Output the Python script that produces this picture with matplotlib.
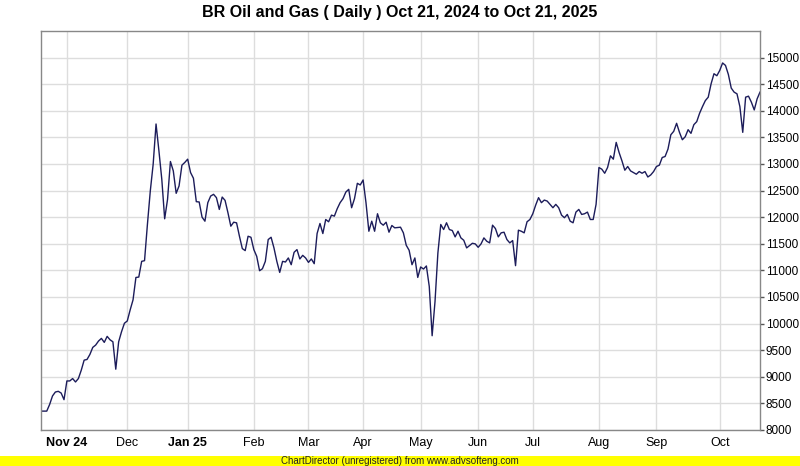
"""BR Oil and Gas, дневной график за год (стиль ChartDirector)"""

import matplotlib
matplotlib.use('Agg')
import matplotlib.pyplot as plt
from matplotlib.patches import Rectangle

TITLE = 'BR Oil and Gas ( Daily ) Oct 21, 2024 to Oct 21, 2025'
BANNER = 'ChartDirector (unregistered) from www.advsofteng.com'

# цены закрытия по торговым дням
prices = [
    8355, 8355, 8355, 8480, 8640, 8714, 8727, 8695, 8570, 8922,
    8922, 8967, 8903, 8967, 9124, 9313, 9326, 9420, 9553, 9596,
    9672, 9722, 9647, 9760, 9696, 9658, 9143, 9658, 9847, 10006,
    10050, 10257, 10446, 10867, 10875, 11170, 11183, 11863, 12492, 12996,
    13752, 13248, 12713, 11970, 12335, 13047, 12870, 12449, 12587, 12978,
    13029, 13091, 12840, 12732, 12292, 12286, 12001, 11925, 12273, 12398,
    12430, 12367, 12146, 12379, 12316, 12084, 11831, 11906, 11894, 11642,
    11410, 11372, 11642, 11623, 11391, 11265, 10994, 11032, 11170, 11580,
    11623, 11423, 11170, 10962, 11170, 11158, 11234, 11107, 11340, 11391,
    11215, 11283, 11234, 11151, 11215, 11126, 11693, 11882, 11693, 11957,
    11914, 12039, 12020, 12160, 12273, 12348, 12473, 12524, 12178, 12348,
    12637, 12606, 12700, 12273, 11736, 11925, 11736, 12065, 11895, 11850,
    11906, 11718, 11844, 11800, 11806, 11812, 11706, 11472, 11378, 11107,
    11234, 10868, 11064, 11026, 11083, 10698, 9772, 10414, 11328, 11863,
    11768, 11895, 11768, 11750, 11630, 11736, 11611, 11566, 11423, 11466,
    11510, 11498, 11434, 11498, 11611, 11548, 11517, 11850, 11787, 11630,
    11706, 11718, 11580, 11517, 11561, 11089, 11756, 11736, 11706, 11914,
    11957, 12065, 12227, 12367, 12273, 12322, 12303, 12241, 12178, 12241,
    12178, 12039, 11990, 12052, 11925, 11895, 12096, 12146, 12052, 12065,
    12096, 11957, 11957, 12241, 12934, 12902, 12826, 12934, 13153, 13091,
    13406, 13217, 13059, 12883, 12953, 12870, 12840, 12808, 12858, 12826,
    12858, 12756, 12794, 12858, 12953, 12978, 13122, 13141, 13280, 13550,
    13614, 13765, 13595, 13456, 13512, 13645, 13576, 13739, 13796, 13954,
    14079, 14192, 14256, 14508, 14697, 14659, 14759, 14899, 14853, 14683,
    14427, 14351, 14319, 14079, 13595, 14256, 14275, 14162, 14016, 14224,
    14351,
]

# первый торговый день месяца (индекс) и подписи
month_ticks = [9, 30, 51, 74, 93, 112, 132, 152, 171, 194, 214, 236]
month_labels = ['Nov 24', 'Dec', 'Jan 25', 'Feb', 'Mar', 'Apr', 'May', 'Jun',
                'Jul', 'Aug', 'Sep', 'Oct']
y_ticks = list(range(8000, 15001, 500))

plt.rcParams['font.family'] = ['Liberation Sans Narrow', 'Liberation Sans', 'DejaVu Sans']

W, H = 800, 466
fig = plt.figure(figsize=(W / 100, H / 100), dpi=100)
fig.patch.set_facecolor('white')

# область графика: x 41..760, y 31..430 в пикселях
ax = fig.add_axes([41 / W, 1 - 430 / H, 719 / W, 399 / H])

x = range(len(prices))
ax.plot(x, prices, color='#1c1c5a', linewidth=1.0)

ax.set_xlim(0, len(prices) - 1)
ax.set_ylim(8000, 15500)

ax.set_xticks(month_ticks)
ax.set_xticklabels(month_labels)
for lbl in ax.get_xticklabels():
    if lbl.get_text().endswith(('24', '25')):
        lbl.set_fontweight('bold')
ax.tick_params(axis='x', length=0, pad=5, labelsize=9, colors='black')

ax.set_yticks(y_ticks)
ax.yaxis.tick_right()
ax.tick_params(axis='y', direction='out', length=3, width=1, pad=1,
               labelsize=8.5, color='#555555', labelcolor='black')

ax.grid(True, color='#dddddd', linewidth=1)
ax.set_axisbelow(True)
for sp in ax.spines.values():
    sp.set_color('#888888')
    sp.set_linewidth(1)

fig.text(0.5, 1 - 13 / H, TITLE, ha='center', va='center',
         fontsize=11.5, fontweight='bold')

# жёлтая плашка снизу
fig.patches.append(Rectangle((0, 0), 1, 10 / H, transform=fig.transFigure,
                             facecolor='#ffff00', edgecolor='none', zorder=0))
fig.text(0.5, 5 / H, BANNER, ha='center', va='center', fontsize=7, color='#222222')

fig.savefig('out.png', dpi=100)
